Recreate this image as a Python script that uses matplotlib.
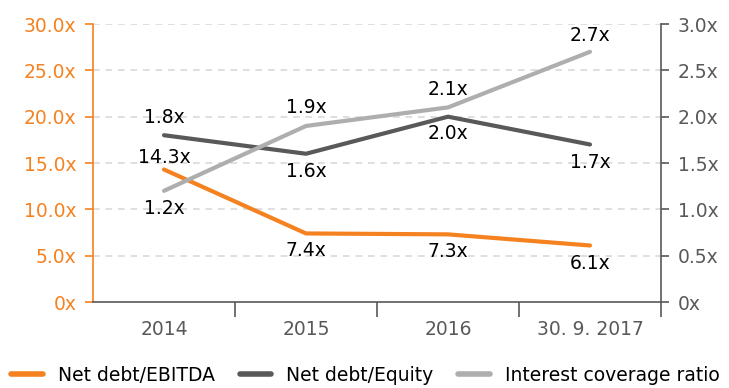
import matplotlib
matplotlib.use("Agg")
import matplotlib.pyplot as plt
from matplotlib.lines import Line2D

plt.rcParams['font.family'] = ['DejaVu Sans']

# periods and ratios
periods = ['2014', '2015', '2016', '30. 9. 2017']
net_debt_ebitda = [14.3, 7.4, 7.3, 6.1]      # left axis
net_debt_equity = [1.8, 1.6, 2.0, 1.7]        # right axis
interest_coverage = [1.2, 1.9, 2.1, 2.7]      # right axis

left_ticks = [0, 5, 10, 15, 20, 25, 30]
right_ticks = [0, 0.5, 1.0, 1.5, 2.0, 2.5, 3.0]

ORANGE = '#F58220'
DARK = '#595959'
LIGHT = '#AEAEAE'
GRID = '#D9D9D9'
FS = 13.5

fig = plt.figure(figsize=(7.29, 3.88), dpi=100)
ax = fig.add_axes([0.1276, 0.2216, 0.7791, 0.7165])
ax2 = ax.twinx()

x = list(range(len(periods)))

ax.set_xlim(-0.5, len(periods) - 0.5)
ax.set_ylim(0, 30)
ax2.set_ylim(0, 3)

# dashed horizontal grid
for t in left_ticks[1:]:
    ax.axhline(t, color=GRID, lw=1.2, ls=(0, (4, 3.5)), zorder=0)

ax.plot(x, net_debt_ebitda, color=ORANGE, lw=3, solid_capstyle='round', zorder=3)
ax2.plot(x, net_debt_equity, color=DARK, lw=3, solid_capstyle='round', zorder=3)
ax2.plot(x, interest_coverage, color=LIGHT, lw=3, solid_capstyle='round', zorder=3)

def fmt(v):
    return f'{v:.1f}x'

# value label offsets in points (positive = above the point)
ebitda_off = [9, -12, -12, -13]
equity_off = [13, -13, -12, -13]
cover_off = [-13, 13, 13, 12]
for i, v in enumerate(net_debt_ebitda):
    ax.annotate(fmt(v), (i, v), xytext=(0, ebitda_off[i]), textcoords='offset points',
                ha='center', va='center', fontsize=FS, color='black')
for i, v in enumerate(net_debt_equity):
    ax2.annotate(fmt(v), (i, v), xytext=(0, equity_off[i]), textcoords='offset points',
                 ha='center', va='center', fontsize=FS, color='black')
for i, v in enumerate(interest_coverage):
    ax2.annotate(fmt(v), (i, v), xytext=(0, cover_off[i]), textcoords='offset points',
                 ha='center', va='center', fontsize=FS, color='black')

# left axis
ax.set_yticks(left_ticks)
ax.set_yticklabels(['0x'] + [f'{t:.1f}x' for t in left_ticks[1:]])
ax.tick_params(axis='y', colors=ORANGE, labelsize=FS, length=6, width=1.2, pad=6)
ax.spines['left'].set_color(ORANGE)
ax.spines['left'].set_linewidth(1.2)
ax.spines['top'].set_visible(False)
ax.spines['right'].set_visible(False)
ax.spines['bottom'].set_color(DARK)
ax.spines['bottom'].set_linewidth(1.2)

# x axis: labels at categories, ticks between them
ax.set_xticks(x)
ax.set_xticklabels(periods)
ax.tick_params(axis='x', which='major', length=0, labelsize=FS, labelcolor=DARK, pad=13)
ax.set_xticks([i + 0.5 for i in x], minor=True)
ax.tick_params(axis='x', which='minor', length=11, width=1.2, color=DARK)

# right axis
ax2.set_yticks(right_ticks)
ax2.set_yticklabels(['0x'] + [f'{t:.1f}x' for t in right_ticks[1:]])
ax2.tick_params(axis='y', colors=DARK, labelsize=FS, length=6, width=1.2, pad=6)
ax2.spines['right'].set_color(DARK)
ax2.spines['right'].set_linewidth(1.2)
for s in ['left', 'top', 'bottom']:
    ax2.spines[s].set_visible(False)

handles = [Line2D([], [], color=ORANGE, lw=4, solid_capstyle='round'),
           Line2D([], [], color=DARK, lw=4, solid_capstyle='round'),
           Line2D([], [], color=LIGHT, lw=4, solid_capstyle='round')]
labels = ['Net debt/EBITDA', 'Net debt/Equity', 'Interest coverage ratio']
fig.legend(handles, labels, loc='lower left', bbox_to_anchor=(0.0, -0.02), ncol=3,
           frameon=False, fontsize=FS, handlelength=1.7, handletextpad=0.8,
           columnspacing=1.3, borderaxespad=0.2)

fig.savefig('out.png', dpi=100)
